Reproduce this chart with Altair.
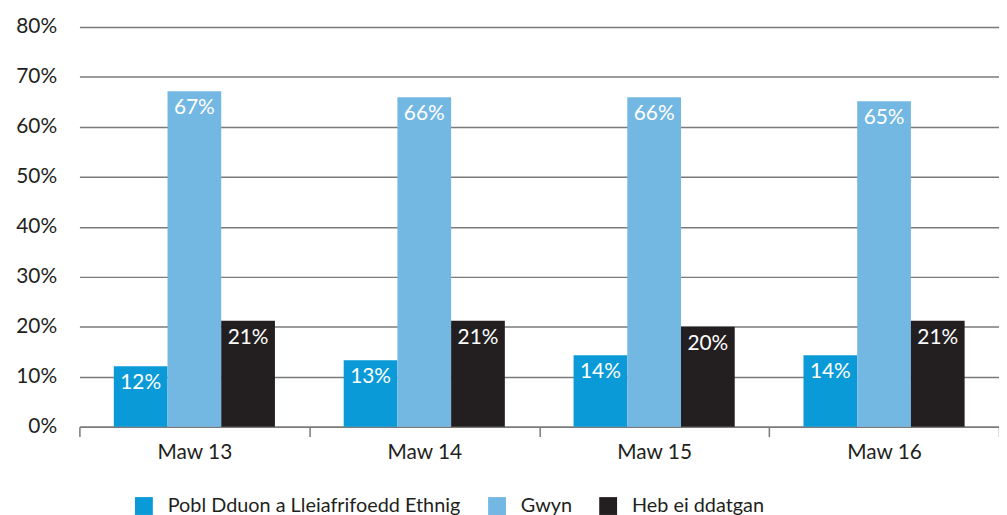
import altair as alt
import pandas as pd

periods = ["Maw 13", "Maw 14", "Maw 15", "Maw 16"]
groups = ["Pobl Dduon a Lleiafrifoedd Ethnig", "Gwyn", "Heb ei ddatgan"]
bme = [12.1, 13.3, 14.3, 14.3]
white = [67.1, 65.9, 65.9, 65.1]
undeclared = [21.2, 21.2, 20.0, 21.2]
colors = ["#0a9ad7", "#73b7e3", "#231f20"]

rows = []
for series, vals in zip(groups, [bme, white, undeclared]):
    for p, v in zip(periods, vals):
        rows.append({"period": p, "group": series, "value": v, "label": f"{round(v)}%"})
df = pd.DataFrame(rows)

FONT = "Lato"
TXT = "#231f20"
GRID = "#7a7a7a"

x_scale = alt.Scale(paddingInner=0, paddingOuter=0)
x_enc = alt.X("period:N", sort=periods, title=None, scale=x_scale,
              axis=alt.Axis(labelAngle=0, labelFontSize=21, labelColor=TXT, labelFont=FONT,
                            domainColor=GRID, domainWidth=1.5, tickColor=GRID, tickWidth=1.5,
                            tickSize=10, tickBand="extent", labelPadding=5))
xo_enc = alt.XOffset("group:N", sort=groups,
                     scale=alt.Scale(paddingOuter=0.64, paddingInner=0))
y_enc = alt.Y("value:Q", title=None,
              scale=alt.Scale(domain=[0, 80], nice=False),
              axis=alt.Axis(values=list(range(0, 81, 10)), labelExpr="datum.value + '%'",
                            labelFontSize=21, labelColor=TXT, labelFont=FONT,
                            domain=False, ticks=False, labelPadding=23,
                            gridColor=GRID, gridWidth=1.5))

bars = alt.Chart(df).mark_bar().encode(
    x=x_enc, xOffset=xo_enc, y=y_enc,
    color=alt.Color("group:N", sort=groups,
                    scale=alt.Scale(domain=groups, range=colors),
                    legend=alt.Legend(title=None, orient="none", direction="horizontal",
                                      legendX=55, legendY=473,
                                      symbolType="square", symbolSize=324,
                                      symbolStrokeWidth=0, symbolOpacity=1,
                                      labelFontSize=20, labelColor=TXT, labelFont=FONT,
                                      labelOffset=14, columnPadding=26, labelLimit=400)),
)

labels = alt.Chart(df).mark_text(color="white", fontSize=21, font=FONT,
                                 baseline="middle", dy=17).encode(
    x=alt.X("period:N", sort=periods),
    xOffset=xo_enc,
    y=alt.Y("value:Q"),
    text="label:N",
)

chart = alt.layer(bars, labels).properties(
    width=927, height=403,
    autosize=alt.AutoSizeParams(type="none"),
    padding={"left": 72, "top": 17, "right": 0, "bottom": 87},
    background="white",
).configure_view(stroke=None)

chart.save("out.html", embed_options={"renderer": "svg", "actions": False})
